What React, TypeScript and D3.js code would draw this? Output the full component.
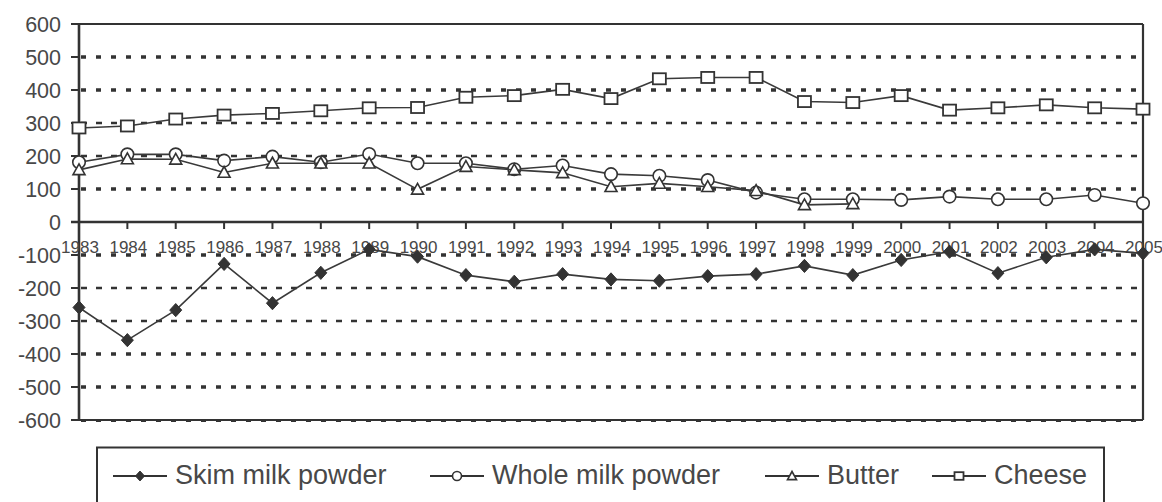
import React from "react";
import * as d3 from "d3";

const years = [
  "1983","1984","1985","1986","1987","1988","1989","1990","1991","1992","1993","1994",
  "1995","1996","1997","1998","1999","2000","2001","2002","2003","2004","2005",
];
const skimMilkPowder = [-259,-358,-267,-127,-246,-154,-83,-105,-161,-181,-158,-174,-178,-164,-158,-133,-161,-115,-90,-155,-107,-83,-95];
const wholeMilkPowder = [181,205,205,186,198,181,206,178,178,160,171,145,140,127,89,69,69,67,77,69,69,82,57];
const butter: (number | null)[] = [158,191,190,150,178,178,178,99,168,158,149,107,117,107,95,52,55,null,null,null,null,null,null];
const cheese = [285,291,312,324,329,337,346,347,378,383,402,374,434,438,438,365,362,383,339,346,355,346,342];
const yTicks = [600,500,400,300,200,100,0,-100,-200,-300,-400,-500,-600];
const seriesNames = ["Skim milk powder","Whole milk powder","Butter","Cheese"];

const W = 1162, H = 502;
const left = 79, right = 1143, top = 24, bottom = 420;
const ink = "#333";
const textCol = "#484848";
const font = "'Liberation Sans', Arial, sans-serif";
const boldGrid = new Set([500, 400, 100, -100, -400, -500]);

type Kind = "diamond" | "circle" | "triangle" | "square";

function Marker({ kind, x, y, s }: { kind: Kind; x: number; y: number; s: number }) {
  const h = s / 2;
  if (kind === "diamond")
    return <path d={`M${x},${y - h * 1.1}L${x + h},${y}L${x},${y + h * 1.1}L${x - h},${y}Z`} fill={ink} stroke={ink} strokeWidth={1} />;
  if (kind === "circle")
    return <circle cx={x} cy={y} r={h} fill="#fff" stroke={ink} strokeWidth={1.6} />;
  if (kind === "triangle")
    return <path d={`M${x},${y - h}L${x + h},${y + h * 0.8}L${x - h},${y + h * 0.8}Z`} fill="#fff" stroke={ink} strokeWidth={1.6} />;
  return <rect x={x - h} y={y - h * 0.85} width={s} height={s * 0.85} fill="#fff" stroke={ink} strokeWidth={1.8} />;
}

export default function App() {
  const x = d3.scalePoint<string>().domain(years).range([left, right]);
  const y = d3.scaleLinear().domain([-600, 600]).range([bottom, top]);

  const series: { name: string; kind: Kind; values: (number | null)[]; size: number }[] = [
    { name: seriesNames[0], kind: "diamond", values: skimMilkPowder, size: 12 },
    { name: seriesNames[1], kind: "circle", values: wholeMilkPowder, size: 12.5 },
    { name: seriesNames[2], kind: "triangle", values: butter, size: 12 },
    { name: seriesNames[3], kind: "square", values: cheese, size: 13 },
  ];

  const line = d3
    .line<number | null>()
    .defined((d) => d !== null)
    .x((_, i) => x(years[i]) as number)
    .y((d) => y(d as number));

  const legendStarts = [113, 430, 765, 932];
  const legendY = 476;

  return (
    <svg width={W} height={H} style={{ position: "absolute", left: 0, top: 0, display: "block", background: "#fff" }}>
      {/* gridlines */}
      {yTicks
        .filter((t) => t !== 600 && t !== 0 && t !== -600)
        .map((t) => (
          <line
            key={t}
            x1={left + 2}
            x2={right}
            y1={y(t)}
            y2={y(t)}
            stroke={ink}
            strokeWidth={boldGrid.has(t) ? 3.6 : 2.6}
            strokeDasharray={boldGrid.has(t) ? "5,10" : "6,9"}
          />
        ))}
      {/* bottom border with dashed gridline on it */}
      <line x1={left} x2={right} y1={y(-600)} y2={y(-600)} stroke={ink} strokeWidth={2} />
      <line x1={left + 2} x2={right} y1={y(-600) + 1} y2={y(-600) + 1} stroke={ink} strokeWidth={2} strokeDasharray="5,10" />
      {/* frame */}
      <line x1={left} x2={right} y1={top} y2={top} stroke={ink} strokeWidth={2} />
      <line x1={right} x2={right} y1={top} y2={bottom} stroke={ink} strokeWidth={2.2} />
      <line x1={left} x2={left} y1={top} y2={bottom} stroke={ink} strokeWidth={2.6} />
      {/* zero axis */}
      <line x1={left - 8} x2={right} y1={y(0)} y2={y(0)} stroke={ink} strokeWidth={2.4} />
      {/* y ticks & labels */}
      {yTicks.map((t) => (
        <g key={t}>
          <line x1={left - 8} x2={left} y1={y(t)} y2={y(t)} stroke={ink} strokeWidth={2} />
          <text x={61} y={y(t) + 7.5} textAnchor="end" fontFamily={font} fontSize={21.5} fill={textCol}>
            {t}
          </text>
        </g>
      ))}
      {/* x ticks & labels */}
      {years.map((yr) => (
        <g key={yr}>
          <line x1={x(yr)} x2={x(yr)} y1={y(0)} y2={y(0) + 7} stroke={ink} strokeWidth={2} />
          <text x={(x(yr) as number) + 1} y={253} textAnchor="middle" fontFamily={font} fontSize={17} fill={textCol}>
            {yr}
          </text>
        </g>
      ))}
      {/* series */}
      {series.map((s) => (
        <g key={s.name}>
          <path d={line(s.values) || ""} fill="none" stroke="#3a3a3a" strokeWidth={1.6} />
          {s.values.map((v, i) =>
            v === null ? null : <Marker key={i} kind={s.kind} x={x(years[i]) as number} y={y(v)} s={s.size} />
          )}
        </g>
      ))}
      {/* legend */}
      <rect x={97} y={447.5} width={1007} height={80} fill="#fff" stroke={ink} strokeWidth={2} />
      {series.map((s, i) => {
        const x0 = legendStarts[i];
        return (
          <g key={s.name}>
            <line x1={x0} x2={x0 + 54} y1={legendY} y2={legendY} stroke={ink} strokeWidth={2} />
            <Marker kind={s.kind} x={x0 + 27} y={legendY} s={9} />
            <text x={x0 + 62} y={483.5} fontFamily={font} fontSize={27} fill={textCol}>
              {s.name}
            </text>
          </g>
        );
      })}
    </svg>
  );
}
